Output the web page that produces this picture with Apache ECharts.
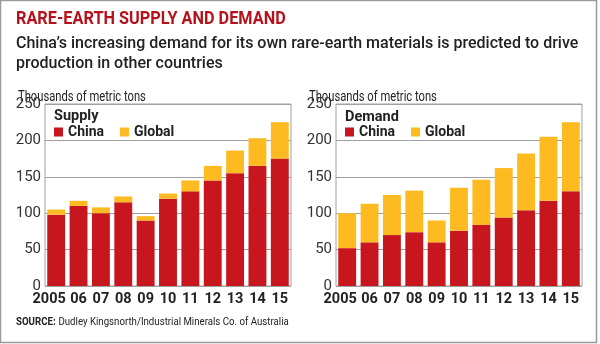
<!DOCTYPE html>
<html>
<head>
<meta charset="utf-8">
<script src="https://cdn.jsdelivr.net/npm/echarts@6/dist/echarts.min.js"></script>
<style>
html,body{margin:0;padding:0;background:#fff;}
#c{width:600px;height:344px;}
</style>
</head>
<body>
<div id="c"></div>
<script>
var years = ['2005','06','07','08','09','10','11','12','13','14','15'];
var supplyChina  = [98, 110, 100, 115, 90, 120, 130, 145, 155, 165, 175];
var supplyGlobal = [7, 7, 8, 8, 6, 7, 15, 20, 31, 38, 50];
var demandChina  = [52, 60, 70, 74, 60, 76, 84, 94, 104, 117, 130];
var demandGlobal = [48, 53, 55, 57, 30, 59, 62, 68, 78, 88, 95];
var yTicks = [0, 50, 100, 150, 200, 250];

var RED = '#c8161e', YEL = '#fdba21';
var FONT = 'Roboto';

var chart = echarts.init(document.getElementById('c'), null, {renderer:'canvas'});

function yAxis(idx){
  return {
    gridIndex: idx, type:'value', min: yTicks[0], max: yTicks[yTicks.length-1], interval: 50,
    axisLine:{show:false}, axisTick:{show:false},
    splitLine:{show:true, lineStyle:{color:'#a0a0a0', width:1}},
    axisLabel:{color:'#333', fontFamily:FONT, fontSize:15, margin:4}
  };
}
function xAxis(idx){
  return {
    gridIndex: idx, type:'category', data: years, boundaryGap:true,
    axisLine:{show:false}, axisTick:{show:false},
    axisLabel:{color:'#222', fontFamily:FONT, fontWeight:'bold', fontSize:14.5, margin:6, interval:0,
      formatter:function(v, i){ return i === 0 ? '{f|' + v + '}' : v; },
      rich:{f:{fontFamily:FONT, fontWeight:'bold', fontSize:14.5, color:'#222', padding:[0,14,0,0]}}
    }
  };
}
function bar(name, data, idx, stack, color){
  return {
    name:name, type:'bar', xAxisIndex:idx, yAxisIndex:idx, stack:stack, data:data,
    barCategoryGap:'20%', itemStyle:{color:color}, silent:true
  };
}
function txt(x, y, text, font, fill, sx){
  return {type:'text', x:x, y:y, scaleX:sx||1, silent:true,
    style:{text:text, font:font, fill:fill, verticalAlign:'top', align:'left'}};
}

var legendText = {fontFamily:FONT, fontWeight:'bold', fontSize:14, color:'#222'};

var option = {
  animation:false,
  backgroundColor:'#fff',
  grid:[
    {left:45, right:309, top:104, bottom:58, show:true, borderColor:'#a0a0a0', borderWidth:1, backgroundColor:'transparent'},
    {left:336, right:18, top:104, bottom:58, show:true, borderColor:'#a0a0a0', borderWidth:1, backgroundColor:'transparent'}
  ],
  xAxis:[xAxis(0), xAxis(1)],
  yAxis:[yAxis(0), yAxis(1)],
  legend:[
    {left:54, top:125, itemWidth:9, itemHeight:9, itemGap:16, icon:'rect', data:['China','Global'],
     textStyle:legendText, padding:0, selectedMode:false},
    {left:345, top:125, itemWidth:9, itemHeight:9, itemGap:16, icon:'rect', data:['China','Global'],
     textStyle:legendText, padding:0, selectedMode:false}
  ],
  series:[
    bar('China', supplyChina, 0, 's', RED),
    bar('Global', supplyGlobal, 0, 's', YEL),
    bar('China', demandChina, 1, 'd', RED),
    bar('Global', demandGlobal, 1, 'd', YEL)
  ],
  graphic:[
    {type:'rect', shape:{x:0.5, y:0.5, width:596, height:342}, style:{fill:'none', stroke:'#9a9a9a', lineWidth:1.5}, silent:true},
    txt(16, 11, 'RARE-EARTH SUPPLY AND DEMAND', 'bold 17.5px ' + FONT, '#b5121b', 0.93),
    {type:'text', x:16, y:34, silent:true, style:{text:"China\u2019s increasing demand for its own rare-earth materials is predicted to drive\nproduction in other countries", fill:'#222', font:'500 16px '+FONT, lineHeight:20, verticalAlign:'top'}},
    txt(18, 90, 'Thousands of metric tons', '14px ' + FONT, '#222', 0.8),
    txt(309, 90, 'Thousands of metric tons', '14px ' + FONT, '#222', 0.8),
    txt(54, 109, 'Supply', 'bold 14.5px ' + FONT, '#222'),
    txt(345, 110, 'Demand', 'bold 14.5px ' + FONT, '#222'),
    {type:'text', x:16, y:316, scaleX:0.84, silent:true, style:{verticalAlign:'top', rich:{b:{font:'bold 11.5px '+FONT, fill:'#222'}, n:{font:'11.5px '+FONT, fill:'#222'}}, text:'{b|SOURCE:} {n|Dudley Kingsnorth/Industrial Minerals Co. of Australia}'}}
  ]
};
chart.setOption(option);
</script>
</body>
</html>
